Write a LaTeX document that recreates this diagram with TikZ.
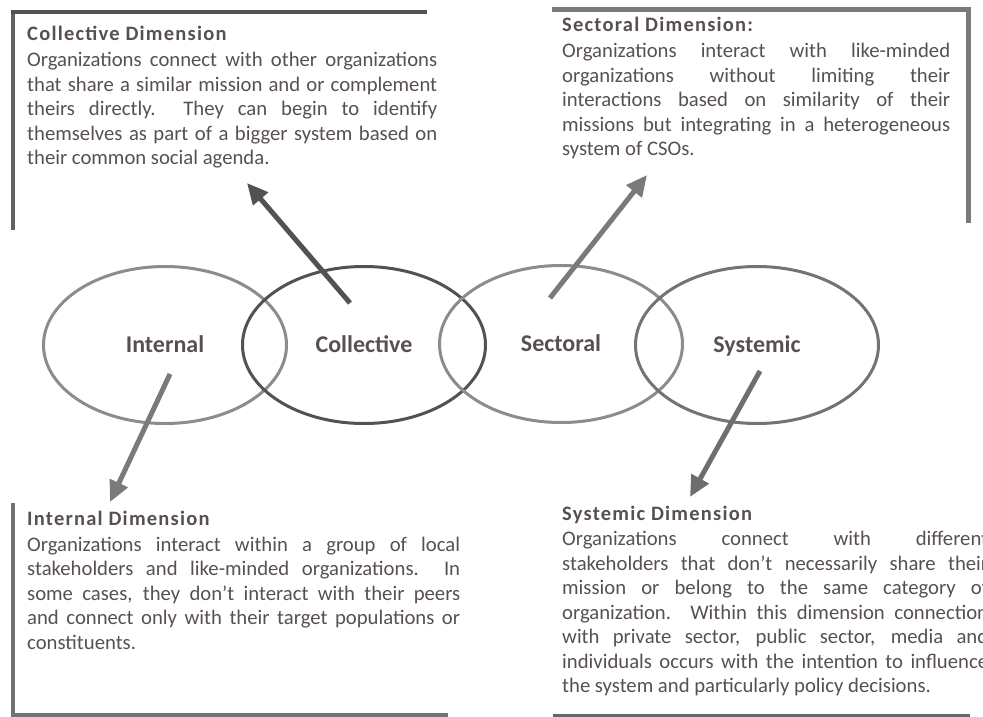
\documentclass[tikz,border=0pt]{standalone}
\usepackage{fontspec}
\setmainfont{Carlito}
\usetikzlibrary{shapes.geometric,arrows.meta}
\definecolor{ink}{RGB}{88,80,80}
\newcommand{\dimhead}[1]{{\fontsize{20.5}{24.5}\selectfont\bfseries\addfontfeature{LetterSpace=6}#1}}
\begin{document}
\begin{tikzpicture}[x=1pt,y=-1pt]
\tikzset{dim/.style={draw,ellipse,line width=3pt,minimum width=243pt,minimum height=157pt,inner sep=0pt,text height=17pt,text depth=3pt,text=ink,font=\fontsize{24}{28}\selectfont\bfseries}, txt/.style={anchor=base west,inner sep=0pt,align=justify,text=ink,font=\fontsize{20.7}{24.5}\selectfont}, arr/.style={line width=5pt,-{Triangle[length=21pt,width=19pt]}}};
   \useasboundingbox (0,0) rectangle (983,717);

   \draw[line width=4.5pt,black!62] (13,230) -- (13,12);
   \draw[line width=4.5pt,black!68] (11,12) -- (427,12);
   \draw[line width=5pt,black!52] (552,10) -- (968,10) -- (968,223);
   \draw[line width=4pt,black!55] (13,503) -- (13,715) -- (448,715);
   \draw[line width=3pt,black!60] (553,715) -- (970,715);

   \node[dim,draw=black!45] at (165,345) (Int) {Internal};
   \node[dim,draw=black!68] at (364,345) (Col) {Collective};
   \node[dim,draw=black!45] at (561,344) (Sec) {Sectoral};
   \node[dim,draw=black!55] at (757,345) (Sys) {Systemic};

   \node[txt,text width=410pt] at (27,40.7) (ColT) {\dimhead{Collective Dimension}\\[1.5pt]
      Organizations connect with other organizations\linebreak that share a similar mission and or complement\linebreak theirs directly.\ \ They can begin to identify\linebreak themselves as part of a bigger system based on\linebreak their common social agenda.};
   \node[txt,text width=388pt] at (562,32) (SecT) {\dimhead{Sectoral Dimension:}\\[1.5pt]
      Organizations interact with like-minded\linebreak organizations without limiting their\linebreak interactions based on similarity of their\linebreak missions but integrating in a heterogeneous\linebreak system of CSOs.};
   \node[txt,text width=433pt] at (27,525) (IntT) {\dimhead{Internal Dimension}\\[1.5pt]
      Organizations interact within a group of local\linebreak stakeholders and like-minded organizations.\ \ In\linebreak some cases, they don’t interact with their peers\linebreak and connect only with their target populations or\linebreak constituents.};
   \node[txt,text width=426pt] at (562,520) (SysT) {\dimhead{Systemic Dimension}\\[1pt]
      Organizations connect with different\linebreak stakeholders that don’t necessarily share their\linebreak mission or belong to the same category of\linebreak organization.\ \ Within this dimension connection\linebreak with private sector, public sector, media and\linebreak individuals occurs with the intention to influence\linebreak the system and particularly policy decisions.};

   \coordinate (ColA) at (350,303);  \coordinate (ColB) at (247,183);
   \coordinate (IntA) at (170,374);  \coordinate (IntB) at (110,502);
   \coordinate (SecA) at (550,298);  \coordinate (SecB) at (647,175);
   \coordinate (SysA) at (760,371);  \coordinate (SysB) at (690,497);

   \draw[arr,black!68] (ColA) -- (ColB);
   \draw[arr,black!52] (IntA) -- (IntB);
   \draw[arr,black!52] (SecA) -- (SecB);
   \draw[arr,black!57] (SysA) -- (SysB);
 \end{tikzpicture}
\end{document}
